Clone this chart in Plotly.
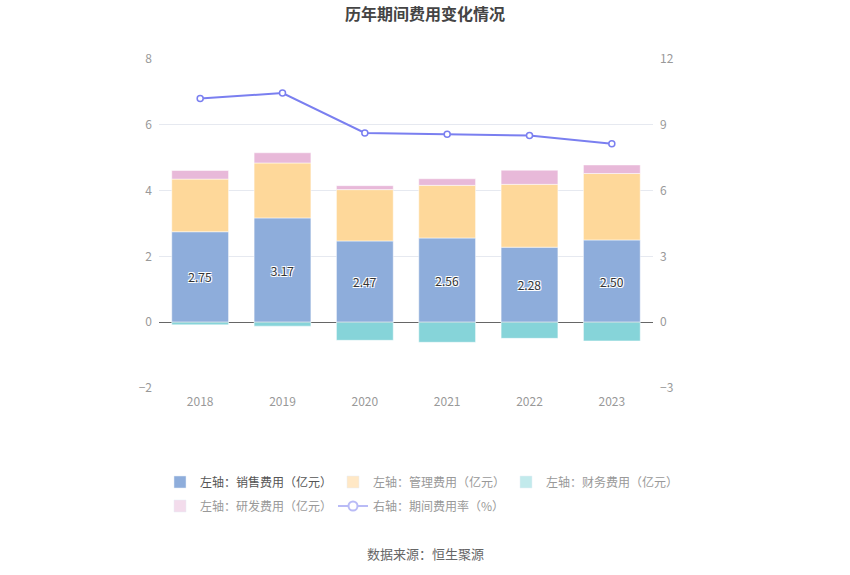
import plotly.graph_objects as go

years = ["2018", "2019", "2020", "2021", "2022", "2023"]
sales = [2.75, 3.17, 2.47, 2.56, 2.28, 2.50]
mgmt = [1.60, 1.67, 1.56, 1.60, 1.91, 2.02]
finance = [-0.08, -0.12, -0.55, -0.61, -0.49, -0.57]
rnd = [0.26, 0.31, 0.12, 0.20, 0.43, 0.26]
rate = [10.20, 10.45, 8.63, 8.57, 8.51, 8.14]

names = ["左轴：销售费用（亿元）", "左轴：管理费用（亿元）", "左轴：财务费用（亿元）",
         "左轴：研发费用（亿元）", "右轴：期间费用率（%）"]
colors = ["#8eaddb", "#fed89a", "#86d4d9", "#e8b9d9"]
legend_colors = ["#8eaddb", "#ffe8c6", "#c2eaec", "#f3dcec"]
line_color = "#7a7ff0"
legend_line_color = "#b9bbf6"

fig = go.Figure()
halo = "-1px -1px 0 #fff, 1px -1px 0 #fff, -1px 1px 0 #fff, 1px 1px 0 #fff"

fig.add_trace(go.Bar(x=years, y=sales, marker=dict(color=colors[0], line=dict(color="#ffffff", width=0.5)),
                     text=[f"{v:.2f}" for v in sales], textposition="inside",
                     insidetextanchor="middle",
                     textfont=dict(color="#333333", size=12, shadow=halo),
                     showlegend=False, yaxis="y"))
fig.add_trace(go.Bar(x=years, y=mgmt, marker=dict(color=colors[1], line=dict(color="#ffffff", width=0.5)),
                     showlegend=False, yaxis="y"))
fig.add_trace(go.Bar(x=years, y=finance, marker=dict(color=colors[2], line=dict(color="#ffffff", width=0.5)),
                     showlegend=False, yaxis="y"))
fig.add_trace(go.Bar(x=years, y=rnd, marker=dict(color=colors[3], line=dict(color="#ffffff", width=0.5)),
                     showlegend=False, yaxis="y"))
fig.add_trace(go.Scatter(x=years, y=rate, mode="lines+markers", yaxis="y2",
                         line=dict(color=line_color, width=2),
                         marker=dict(symbol="circle", size=6, color="#ffffff",
                                     line=dict(color=line_color, width=1.5)),
                         showlegend=False))

# legend entries
txt_colors = ["#555555", "#999999", "#999999", "#999999", "#999999"]
for i in range(4):
    fig.add_trace(go.Bar(x=[None], y=[None], marker=dict(color=legend_colors[i]),
                         name=f"<span style='color:{txt_colors[i]}'>{names[i]}</span>",
                         legend="legend" if i < 3 else "legend2"))
fig.add_trace(go.Scatter(x=[None], y=[None], mode="lines+markers",
                         line=dict(color=legend_line_color, width=2),
                         marker=dict(symbol="circle", size=9, color="#ffffff",
                                     line=dict(color=legend_line_color, width=2)),
                         name=f"<span style='color:{txt_colors[4]}'>{names[4]}</span>",
                         legend="legend2"))

L, R = 20, 20
W = 850 - L - R
x0 = (159 - L) / W
x1 = (653 - L) / W
plot_top, plot_bot = 59, 388
H = plot_bot - plot_top

def py(p):
    return (plot_bot - p) / H

def px(p):
    return (p - L) / W

leg_common = dict(orientation="h", font=dict(size=12, color="#999999",
                  family="Noto Sans CJK SC, sans-serif"),
                  entrywidth=128, entrywidthmode="pixels", yanchor="middle",
                  xanchor="left", bgcolor="rgba(0,0,0,0)", itemclick=False)

fig.update_layout(
    width=850, height=575,
    margin=dict(l=L, r=R, t=plot_top, b=575 - plot_bot),
    paper_bgcolor="#ffffff", plot_bgcolor="#ffffff",
    font=dict(family="Noto Sans CJK SC, sans-serif", color="#999999", size=12),
    barmode="relative", bargap=0.31,
    title=dict(text="<b>历年期间费用变化情况</b>", x=0.5, xanchor="center",
               y=1 - 14 / 575, yanchor="middle", yref="container",
               font=dict(size=16, color="#444444")),
    xaxis=dict(domain=[x0, x1], showgrid=False, showline=False, ticks="",
               tickfont=dict(size=12, color="#999999"), ticklabelstandoff=5),
    yaxis=dict(range=[-2, 8], dtick=2, showgrid=True, gridcolor="#e6e9f0", gridwidth=1,
               zeroline=True, zerolinecolor="#666666", zerolinewidth=1,
               tickfont=dict(size=12, color="#999999"), ticklabelstandoff=6,
               showline=False),
    yaxis2=dict(range=[-3, 12], dtick=3, overlaying="y", side="right", anchor="x",
                showgrid=False, zeroline=False, showline=False,
                tickfont=dict(size=12, color="#999999"), ticklabelstandoff=6),
    legend=dict(x=px(160), y=py(482), **leg_common),
    legend2=dict(x=px(160), y=py(506), **leg_common),
    annotations=[dict(text="数据来源：恒生聚源", x=0.5, y=py(553), xref="paper", yref="paper",
                      showarrow=False, font=dict(size=13, color="#666666"),
                      xanchor="center", yanchor="middle")],
    hovermode=False,
)

fig.write_html("out.html", config={"displayModeBar": False},
               post_script="document.body.style.margin='0';")
